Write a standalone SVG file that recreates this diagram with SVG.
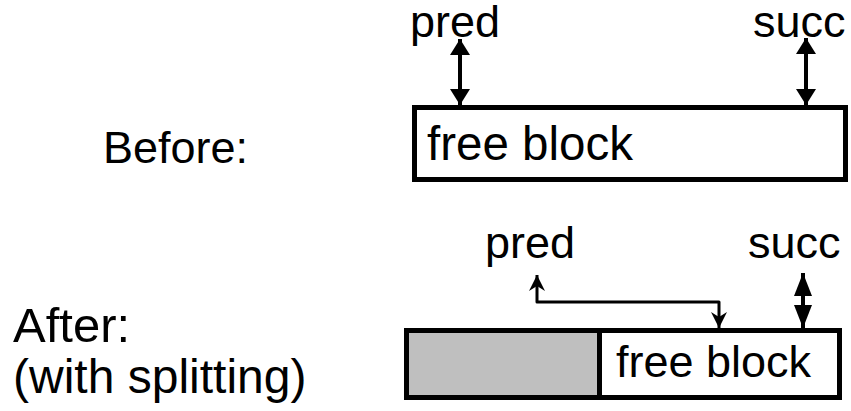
<svg xmlns="http://www.w3.org/2000/svg" width="851" height="411" viewBox="0 0 851 411">
  <style>
    text { font-family: "Liberation Sans", Arial, sans-serif; fill: #000; }
    .lbl { font-size: 45px; }
    .blk { fill: #fff; stroke: #000; stroke-width: 5; }
    .used { fill: #bfbfbf; stroke: #000; stroke-width: 5; }
    .thick { fill: none; stroke: #000; stroke-width: 4; }
    .thin { fill: none; stroke: #000; stroke-width: 3; stroke-linejoin: round; }
  </style>
  <defs>
    <!-- filled heads for the short double arrows -->
    <marker id="headBig" viewBox="0 0 16 20" refX="16" refY="10" markerWidth="16" markerHeight="20" markerUnits="userSpaceOnUse" orient="auto-start-reverse">
      <path d="M0,0 L16,10 L0,20 Z" fill="#000"/>
    </marker>
    <marker id="headSmall" viewBox="0 0 23 18" refX="23" refY="9" markerWidth="23" markerHeight="18" markerUnits="userSpaceOnUse" orient="auto-start-reverse">
      <path d="M0,0 L23,9 L0,18 Z" fill="#000"/>
    </marker>
    <!-- stealth heads for the rerouted pred link -->
    <marker id="stealth" viewBox="0 0 16 16" refX="16" refY="8" markerWidth="16" markerHeight="16" markerUnits="userSpaceOnUse" orient="auto-start-reverse">
      <path d="M0,0 L16,8 L0,16 L5,8 Z" fill="#000"/>
    </marker>
  </defs>

  <!-- row labels -->
  <text class="lbl" x="103" y="163">Before:</text>
  <text class="lbl" x="13" y="342" style="font-size:49px">After:</text>
  <text class="lbl" x="13" y="393" style="font-size:48px">(with splitting)</text>

  <!-- before: one free block -->
  <g id="before-block">
    <rect class="blk" x="414.5" y="107.5" width="431" height="72"/>
    <text class="lbl" x="427" y="160" style="font-size:47.5px">free block</text>
  </g>
  <g id="before-pred"><text class="lbl" x="410" y="37">pred</text></g>
  <g id="before-succ"><text class="lbl" x="753" y="37">succ</text></g>

  <!-- after: allocated part plus remaining free block -->
  <g id="after-used">
    <rect class="used" x="406.5" y="330.5" width="193" height="67"/>
  </g>
  <g id="after-block">
    <rect class="blk" x="599.5" y="330.5" width="240" height="67"/>
    <text class="lbl" x="616" y="377">free block</text>
  </g>
  <g id="after-pred"><text class="lbl" x="485" y="258">pred</text></g>
  <g id="after-succ"><text class="lbl" x="748" y="258">succ</text></g>

  <g id="connectors">
    <line class="thick" x1="460" y1="39" x2="460" y2="105" marker-start="url(#headBig)" marker-end="url(#headBig)"/>
    <line class="thick" x1="806" y1="38" x2="806" y2="105" marker-start="url(#headBig)" marker-end="url(#headBig)"/>
    <line class="thick" x1="803" y1="273" x2="803" y2="328" marker-start="url(#headSmall)" marker-end="url(#headSmall)"/>
    <path class="thin" d="M537,275 L537,302 L719,302 L719,328" marker-start="url(#stealth)" marker-end="url(#stealth)"/>
  </g>
</svg>
